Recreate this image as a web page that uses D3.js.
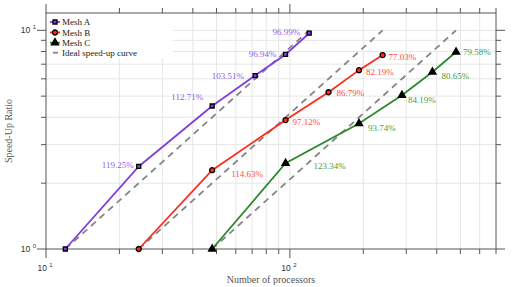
<!DOCTYPE html>
<html>
<head>
<meta charset="utf-8">
<script src="https://cdn.jsdelivr.net/npm/d3@7"></script>
<style>
  body { margin: 0; background: #fff; }
  svg { display: block; }
  .serif { font-family: "Liberation Serif", "Times New Roman", serif; }
  .sans { font-family: "Liberation Sans", Arial, sans-serif; }
</style>
</head>
<body>
<svg id="chart"></svg>
<script>
// processors and measured speed-up per mesh
var procsA = [12, 24, 48, 72, 96, 120];
var speedA = [1, 2.385, 4.508, 6.21, 7.755, 9.70];
var effA = ['', '119.25%', '112.71%', '103.51%', '96.94%', '96.99%'];

var procsB = [24, 48, 96, 144, 192, 240];
var speedB = [1, 2.293, 3.885, 5.207, 6.575, 7.703];
var effB = ['', '114.63%', '97.12%', '86.79%', '82.19%', '77.03%'];

var procsC = [48, 96, 192, 288, 384, 480];
var speedC = [1, 2.467, 3.750, 5.051, 6.452, 7.958];
var effC = ['', '123.34%', '93.74%', '84.19%', '80.65%', '79.58%'];

var xTickLabels = ['1', '2']; // exponents of 10
var yTickLabels = ['0', '1'];

var width = 526, height = 287;
var pL = 46, pR = 496, pT = 13, pB = 249;

var svg = d3.select('#chart').attr('width', width).attr('height', height);

var x = d3.scaleLog().domain([10, 700]).range([pL, pR]);
var y = d3.scaleLog().domain([1, 12]).range([pB, pT]);

var xTicks = x.ticks();
var yTicks = y.ticks().filter(d => d <= 12);

// grid
svg.append('g').selectAll('line').data(xTicks.filter(d => d > 10 && d < 700)).enter()
  .append('line')
  .attr('x1', d => x(d)).attr('x2', d => x(d))
  .attr('y1', pT).attr('y2', pB)
  .attr('stroke', '#e6e6e6').attr('stroke-width', 1);
svg.append('g').selectAll('line').data(yTicks.filter(d => d > 1)).enter()
  .append('line')
  .attr('y1', d => y(d)).attr('y2', d => y(d))
  .attr('x1', pL).attr('x2', pR)
  .attr('stroke', '#e6e6e6').attr('stroke-width', 1);

// legend background covers the grid
svg.append('rect').attr('x', pL + 1).attr('y', pT + 1).attr('width', 126).attr('height', 44)
  .attr('fill', '#fff');

// axes with outward ticks
var isMajor = d => Math.abs(Math.log10(d) - Math.round(Math.log10(d))) < 1e-9;
var tickLen = d => isMajor(d) ? 9 : 5;
var axisColor = '#555';

var ticks = svg.append('g').attr('stroke', axisColor).attr('stroke-width', 1);
ticks.selectAll('.xb').data(xTicks).enter().append('line')
  .attr('x1', d => x(d)).attr('x2', d => x(d))
  .attr('y1', pB).attr('y2', d => pB + tickLen(d));
ticks.selectAll('.xt').data(xTicks).enter().append('line')
  .attr('x1', d => x(d)).attr('x2', d => x(d))
  .attr('y1', pT).attr('y2', d => pT - tickLen(d));
ticks.selectAll('.yl').data(yTicks).enter().append('line')
  .attr('y1', d => y(d)).attr('y2', d => y(d))
  .attr('x1', pL).attr('x2', d => pL - tickLen(d));
ticks.selectAll('.yr').data(yTicks).enter().append('line')
  .attr('y1', d => y(d)).attr('y2', d => y(d))
  .attr('x1', pR).attr('x2', d => pR + tickLen(d));

svg.append('rect')
  .attr('x', pL).attr('y', pT).attr('width', pR - pL).attr('height', pB - pT)
  .attr('fill', 'none').attr('stroke', axisColor).attr('stroke-width', 1);

// tick labels, 10 with superscript
function powerLabel(g, px, py, exp, anchor) {
  var t = g.append('text').attr('class', 'sans').attr('x', px).attr('y', py)
    .attr('text-anchor', anchor).attr('fill', '#333').attr('font-size', 8.5);
  t.append('tspan').text('10 ');
  t.append('tspan').text(exp).attr('font-size', 6).attr('dy', -4);
}
var lab = svg.append('g');
[10, 100].forEach((d, i) => powerLabel(lab, x(d) - 1, 271, xTickLabels[i], 'middle'));
[1, 10].forEach((d, i) => powerLabel(lab, 36, y(d) + 3, yTickLabels[i], 'end'));

svg.append('text').attr('class', 'serif')
  .attr('x', (pL + pR) / 2).attr('y', 283)
  .attr('text-anchor', 'middle').attr('font-size', 10).attr('fill', '#555')
  .text('Number of processors');
svg.append('text').attr('class', 'serif')
  .attr('transform', `translate(12,${(pT + pB) / 2}) rotate(-90)`)
  .attr('text-anchor', 'middle').attr('font-size', 10).attr('fill', '#555')
  .text('Speed-Up Ratio');

var series = [
  { name: 'Mesh A', procs: procsA, speed: speedA, eff: effA, color: '#7f3fdf', text: '#9563e3',
    symbol: d3.symbolSquare, size: 16, fill: '#7f3fdf', anchor: 'end',
    off: [[0, 0], [-5, -2], [-9, -9], [-11, 0], [-9, -1], [-9, -1]] },
  { name: 'Mesh B', procs: procsB, speed: speedB, eff: effB, color: '#ff2a1a', text: '#ff4a3a',
    symbol: d3.symbolCircle, size: 20, fill: '#ff2a1a', anchor: 'start',
    off: [[0, 0], [19, 4], [7, 2], [8, 1], [7, 2], [6, 2]] },
  { name: 'Mesh C', procs: procsC, speed: speedC, eff: effC, color: '#2b8a2b', text: '#45a045',
    symbol: d3.symbolTriangle, size: 22, fill: '#000', anchor: 'start',
    off: [[0, 0], [28, 3], [9, 4], [6, 5], [9, 4], [7, 0]] }
];

// ideal speed-up: p/p0 from the first point over one decade
var ideal = d3.line().x(d => x(d[0])).y(d => y(d[1]));
series.forEach(s => {
  var p0 = s.procs[0];
  svg.append('path')
    .attr('d', ideal([[p0, 1], [p0 * 10, 10]]))
    .attr('fill', 'none').attr('stroke', '#858585').attr('stroke-width', 1.8)
    .attr('stroke-dasharray', '6.5,5');
});

var line = d3.line().x(d => x(d.p)).y(d => y(d.s));
series.forEach(s => {
  var pts = s.procs.map((p, i) => ({ p: p, s: s.speed[i], e: s.eff[i], o: s.off[i] }));
  svg.append('path').datum(pts)
    .attr('d', line).attr('fill', 'none').attr('stroke', s.color).attr('stroke-width', 1.8);
  svg.append('g').selectAll('path').data(pts).enter().append('path')
    .attr('d', d3.symbol().type(s.symbol).size(s.size))
    .attr('transform', d => `translate(${x(d.p)},${y(d.s)})`)
    .attr('fill', s.fill).attr('stroke', '#000').attr('stroke-width', 1.3);
  svg.append('g').selectAll('text').data(pts.filter(d => d.e)).enter().append('text')
    .attr('class', 'serif')
    .attr('x', d => x(d.p) + d.o[0]).attr('y', d => y(d.s) + d.o[1])
    .attr('dy', '0.35em').attr('text-anchor', s.anchor)
    .attr('font-size', 9).attr('fill', s.text)
    .text(d => d.e);
});

// legend
var leg = svg.append('g');
var rows = [22, 32.5, 42.7, 52.7];
series.forEach((s, i) => {
  leg.append('line').attr('x1', 50).attr('x2', 60).attr('y1', rows[i]).attr('y2', rows[i])
    .attr('stroke', s.color).attr('stroke-width', 1.8);
  leg.append('path').attr('d', d3.symbol().type(s.symbol).size(s.size))
    .attr('transform', `translate(55,${rows[i]})`)
    .attr('fill', s.fill).attr('stroke', '#000').attr('stroke-width', 1.3);
  leg.append('text').attr('class', 'serif').attr('x', 62).attr('y', rows[i]).attr('dy', '0.35em')
    .attr('font-size', 9).attr('fill', '#222').text(s.name);
});
leg.append('line').attr('x1', 53).attr('x2', 58).attr('y1', rows[3]).attr('y2', rows[3])
  .attr('stroke', '#858585').attr('stroke-width', 1.8);
leg.append('text').attr('class', 'serif').attr('x', 62).attr('y', rows[3]).attr('dy', '0.35em')
  .attr('font-size', 9).attr('fill', '#222').text('Ideal speed-up curve');
</script>
</body>
</html>
